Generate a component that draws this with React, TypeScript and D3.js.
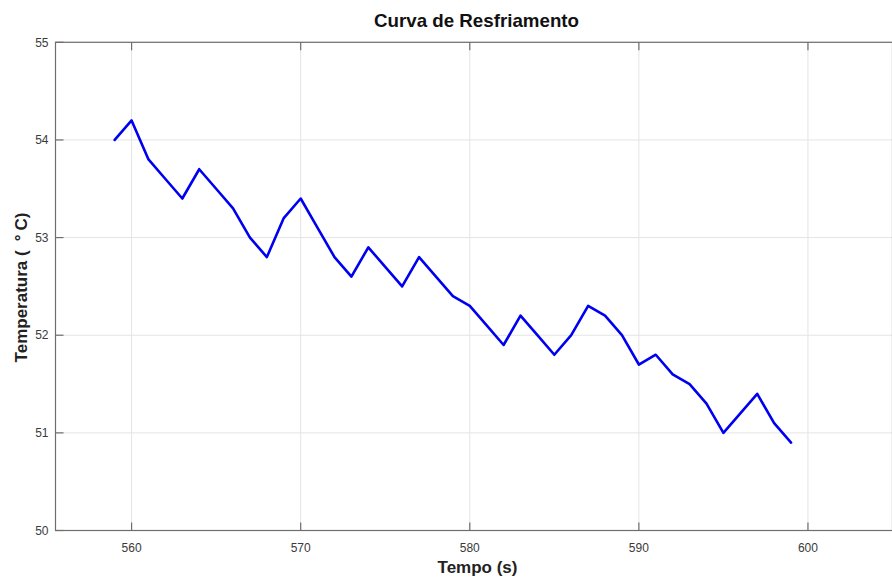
import React from "react";
import * as d3 from "d3";

const tempo: number[] = [
  559, 560, 561, 562, 563, 564, 565, 566, 567, 568, 569, 570, 571, 572, 573, 574, 575, 576, 577, 578,
  579, 580, 581, 582, 583, 584, 585, 586, 587, 588, 589, 590, 591, 592, 593, 594, 595, 596, 597, 598, 599,
];
const temperatura: number[] = [
  54.0, 54.2, 53.8, 53.6, 53.4, 53.7, 53.5, 53.3, 53.0, 52.8, 53.2, 53.4, 53.1, 52.8, 52.6, 52.9, 52.7, 52.5,
  52.8, 52.6, 52.4, 52.3, 52.1, 51.9, 52.2, 52.0, 51.8, 52.0, 52.3, 52.2, 52.0, 51.7, 51.8, 51.6, 51.5, 51.3,
  51.0, 51.2, 51.4, 51.1, 50.9,
];
const xTicks: number[] = [560, 570, 580, 590, 600];
const yTicks: number[] = [50, 51, 52, 53, 54, 55];
const xDomain: [number, number] = [555.5, 605];
const yDomain: [number, number] = [50, 55];

const W = 892;
const H = 579;
const left = 55.5;
const right = 892.5;
const top = 42.3;
const bottom = 530.5;
const font = "'Liberation Sans', Arial, Helvetica, sans-serif";

export default function App() {
  const x = d3.scaleLinear().domain(xDomain).range([left, right]);
  const y = d3.scaleLinear().domain(yDomain).range([bottom, top]);
  const line = d3
    .line<number>()
    .x((_, i) => x(tempo[i]))
    .y((d) => y(d));
  const axisColor = "#6e6e6e";
  const gridColor = "#e4e4e4";
  const tickLen = 8;
  return (
    <svg
      width={W}
      height={H}
      style={{ position: "absolute", left: 0, top: 0, background: "#fff" }}
      fontFamily={font}
    >
      <rect x={0} y={0} width={W} height={H} fill="#fff" />
      {/* grid */}
      {xTicks.map((t) => (
        <line key={"gx" + t} x1={x(t)} x2={x(t)} y1={top} y2={bottom} stroke={gridColor} strokeWidth={1} />
      ))}
      {yTicks.map((t) => (
        <line key={"gy" + t} x1={left} x2={right} y1={y(t)} y2={y(t)} stroke={gridColor} strokeWidth={1} />
      ))}
      {/* data line */}
      <path
        d={line(temperatura) || ""}
        fill="none"
        stroke="#0000f0"
        strokeWidth={2.6}
        strokeLinejoin="round"
        strokeLinecap="round"
      />
      {/* axes box */}
      <rect x={left} y={top} width={right - left} height={bottom - top} fill="none" stroke={axisColor} strokeWidth={1.2} />
      {/* ticks */}
      {xTicks.map((t) => (
        <g key={"tx" + t}>
          <line x1={x(t)} x2={x(t)} y1={bottom} y2={bottom - tickLen} stroke={axisColor} strokeWidth={1.2} />
          <line x1={x(t)} x2={x(t)} y1={top} y2={top + tickLen} stroke={axisColor} strokeWidth={1.2} />
          <text x={x(t)} y={552} textAnchor="middle" fontSize={12} fill="#3a3a3a">
            {t}
          </text>
        </g>
      ))}
      {yTicks.map((t) => (
        <g key={"ty" + t}>
          <line x1={left} x2={left + tickLen} y1={y(t)} y2={y(t)} stroke={axisColor} strokeWidth={1.2} />
          <text x={48.5} y={y(t)} dy="0.35em" textAnchor="end" fontSize={12} fill="#3a3a3a">
            {t}
          </text>
        </g>
      ))}
      {/* title */}
      <text x={476.5} y={27} textAnchor="middle" fontSize={19} fontWeight="bold" fill="#111" textLength={205} lengthAdjust="spacingAndGlyphs">
        Curva de Resfriamento
      </text>
      {/* x label */}
      <text x={477.5} y={572.5} textAnchor="middle" fontSize={17} fontWeight="bold" fill="#222">
        Tempo (s)
      </text>
      {/* y label */}
      <text
        transform={`translate(27,${(203 + 372) / 2}) rotate(-90)`}
        textAnchor="middle"
        fontSize={17}
        fontWeight="bold"
        fill="#222"
      >
        Temperatura (<tspan dx={9}>°</tspan>
        <tspan dx={4}>C)</tspan>
      </text>
    </svg>
  );
}
